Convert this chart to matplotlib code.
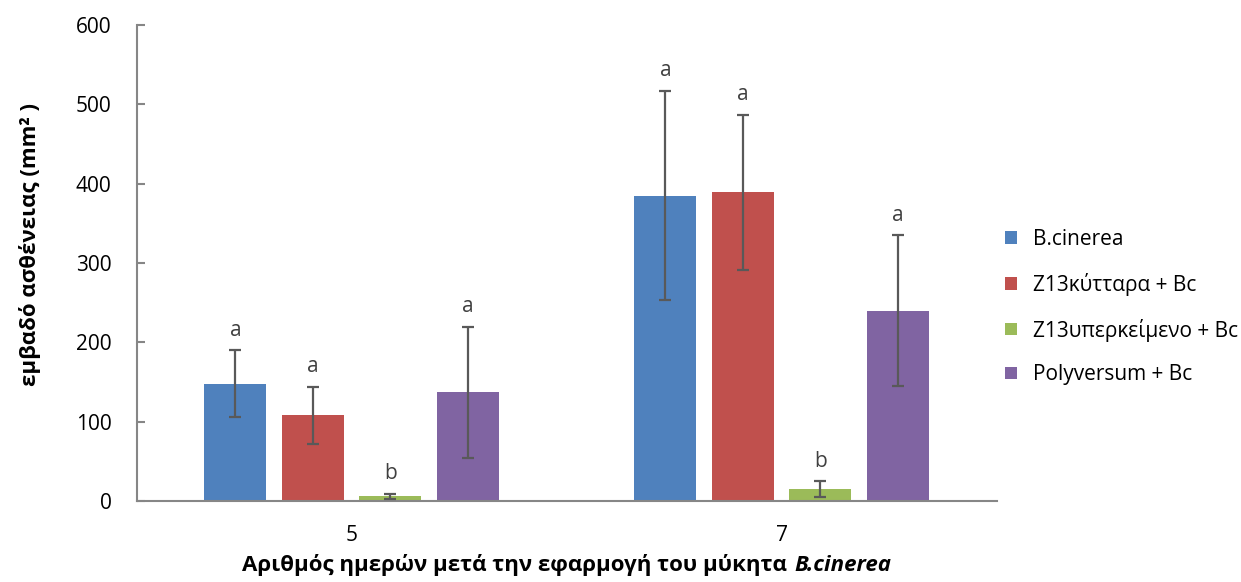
import numpy as np
import matplotlib.pyplot as plt
from matplotlib.offsetbox import TextArea, HPacker, AnchoredOffsetbox

plt.rcParams["font.family"] = ["Open Sans", "DejaVu Sans"]

days = ["5", "7"]
series = ["B.cinerea", "Z13κύτταρα + Bc", "Z13υπερκείμενο + Bc", "Polyversum + Bc"]
colors = ["#4F81BD", "#C0504D", "#9BBB59", "#8064A2"]

means = [
    [148, 385],
    [108, 389],
    [6, 15],
    [137, 240],
]
errors = [
    [42, 132],
    [36, 98],
    [3, 10],
    [83, 95],
]
letters = [
    ["a", "a"],
    ["a", "a"],
    ["b", "b"],
    ["a", "a"],
]


def main() -> None:
    fig = plt.figure(figsize=(12.41, 5.82), dpi=100)
    ax = fig.add_axes([0.110, 0.139, 0.693, 0.818])

    x = np.arange(len(days))
    width = 0.144
    step = 0.18
    axis_grey = "#868686"
    text_grey = "#404040"

    for i, (name, col) in enumerate(zip(series, colors)):
        pos = x + (i - 1.5) * step
        ax.bar(pos, means[i], width=width, color=col, label=name, zorder=2)
        ax.errorbar(pos, means[i], yerr=errors[i], fmt="none", ecolor="#595959",
                    elinewidth=1.6, capsize=4.5, capthick=1.6, zorder=3)
        for p, m, e, t in zip(pos, means[i], errors[i], letters[i]):
            ax.annotate(t, (p, m + e), xytext=(0, 7), textcoords="offset points",
                        ha="center", va="bottom", fontsize=15, color=text_grey)

    ax.set_xlim(-0.5, 1.5)
    ax.set_ylim(0, 600)
    ax.set_yticks(range(0, 601, 100))
    ax.set_xticks(x)
    ax.set_xticklabels(days)

    for side in ["top", "right"]:
        ax.spines[side].set_visible(False)
    for side in ["left", "bottom"]:
        ax.spines[side].set_color(axis_grey)
        ax.spines[side].set_linewidth(1.5)
    ax.tick_params(axis="y", direction="in", length=6, width=1.5, color=axis_grey,
                   labelsize=15, labelcolor="black", pad=18)
    ax.tick_params(axis="x", length=0, labelsize=15, labelcolor="black", pad=17)

    ax.set_ylabel("εμβαδό ασθένειας (mm² )", fontsize=16, fontweight="bold")
    ax.yaxis.label.set_va("center")
    ax.yaxis.set_label_coords(-0.124, 0.54)

    # x label: plain bold text followed by the italic fungus name
    part1 = TextArea("Αριθμός ημερών μετά την εφαρμογή του μύκητα",
                     textprops=dict(fontsize=16, fontweight="bold"))
    part2 = TextArea("B.cinerea",
                     textprops=dict(fontsize=16, fontweight="bold", style="italic"))
    xlab = HPacker(children=[part1, part2], align="baseline", pad=0, sep=5)
    ax.add_artist(AnchoredOffsetbox(loc="center", child=xlab, frameon=False,
                                    bbox_to_anchor=(0.5, -0.134),
                                    bbox_transform=ax.transAxes, borderpad=0))

    ax.legend(loc="upper left", bbox_to_anchor=(0.810, 0.607),
              bbox_transform=fig.transFigure, frameon=False,
              fontsize=15, handlelength=0.55, handleheight=0.55,
              labelspacing=1.1, handletextpad=0.8, borderpad=0, borderaxespad=0)

    fig.savefig("out.png", dpi=100)
    plt.close(fig)


if __name__ == "__main__":
    main()
